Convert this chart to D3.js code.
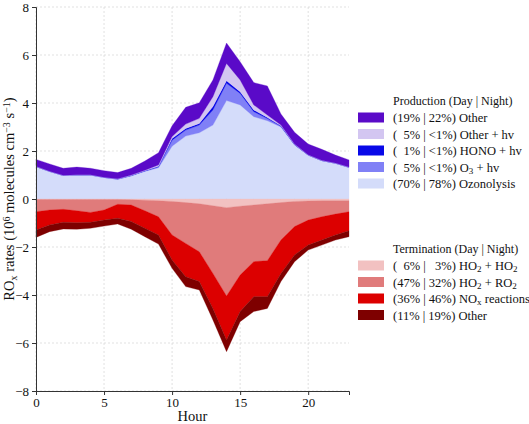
<!DOCTYPE html>
<html>
<head>
<meta charset="utf-8">
<script src="https://cdn.jsdelivr.net/npm/d3@7"></script>
<style>
  body { margin: 0; background: #fff; }
  text { font-family: "Liberation Serif", "DejaVu Serif", serif; fill: #111; }
</style>
</head>
<body>
<svg id="chart" width="529" height="424"></svg>
<script>
"use strict";

// hours of the day
var hours = [0,1,2,3,4,5,6,7,8,9,10,11,12,13,14,15,16,17,18,19,20,21,22,23];

// production terms (10^6 molecules cm-3 s-1), stacked bottom -> top
var ozonolysis = [1.35,1.15,0.98,1.00,1.00,0.90,0.83,0.97,1.15,1.30,2.20,2.62,2.76,3.08,4.10,3.92,3.43,3.26,3.00,2.25,1.83,1.60,1.49,1.32];
var o3Hv       = [0,0,0,0,0,0,0,0,0.02,0.04,0.25,0.25,0.32,0.63,0.72,0.48,0.21,0.09,0.03,0.01,0,0,0,0];
var honoHv     = [0,0,0,0,0,0,0,0.01,0.01,0.02,0.07,0.07,0.07,0.14,0.11,0.07,0.07,0.05,0.02,0.01,0,0,0,0];
var otherHv    = [0.01,0.01,0.01,0.01,0.01,0.01,0.01,0.02,0.02,0.06,0.08,0.18,0.21,0.41,0.72,0.49,0.21,0.10,0.03,0.02,0.01,0.01,0.01,0.01];
var prodOther  = [0.29,0.30,0.29,0.32,0.27,0.27,0.26,0.28,0.38,0.51,0.45,0.70,0.65,0.70,0.85,0.76,0.93,1.21,0.46,0.49,0.45,0.46,0.33,0.30];

// termination terms, stacked from zero downwards
var ho2ho2     = [-0.02,-0.02,-0.02,-0.02,-0.02,-0.02,-0.02,-0.03,-0.05,-0.07,-0.10,-0.15,-0.20,-0.28,-0.36,-0.30,-0.25,-0.20,-0.15,-0.10,-0.08,-0.07,-0.07,-0.07];
var ho2ro2     = [-0.51,-0.44,-0.41,-0.47,-0.54,-0.44,-0.20,-0.22,-0.44,-0.67,-1.40,-1.70,-2.00,-2.82,-3.68,-2.87,-2.36,-2.37,-1.56,-1.05,-0.80,-0.67,-0.56,-0.46];
var noxReact   = [-0.76,-0.62,-0.54,-0.50,-0.41,-0.42,-0.58,-0.69,-0.73,-0.76,-1.04,-1.39,-1.24,-1.46,-1.84,-1.52,-1.46,-1.50,-1.39,-1.18,-1.04,-0.97,-0.87,-0.79];
var termOther  = [-0.31,-0.28,-0.28,-0.27,-0.25,-0.25,-0.24,-0.32,-0.35,-0.38,-0.35,-0.41,-0.35,-0.48,-0.48,-0.42,-0.62,-0.49,-0.34,-0.28,-0.21,-0.21,-0.21,-0.25];

var prodKeys   = ['ozonolysis','o3Hv','honoHv','otherHv','prodOther'];
var termKeys   = ['ho2ho2','ho2ro2','noxReact','termOther'];

var xTicks = [0,5,10,15,20];
var yTicks = [-8,-6,-4,-2,0,2,4,6,8];

var colors = {
  prodOther: '#5a0ac8',
  otherHv: '#d3c6f1',
  honoHv: '#0808e8',
  o3Hv: '#8080f6',
  ozonolysis: '#d4dcfa',
  ho2ho2: '#f2c1c1',
  ho2ro2: '#e07b7b',
  noxReact: '#dc0000',
  termOther: '#7e0000'
};

// legend rows: [key, label pieces]  (pieces: [text, 'sub'|'sup'|null])
var prodLegend = [
  ['prodOther',  [['(19% | 22%) Other']]],
  ['otherHv',    [['( \u00a05% | <1%) Other + hv']]],
  ['honoHv',     [['( \u00a01% | <1%) HONO + hv']]],
  ['o3Hv',       [['( \u00a05% | <1%) O'],['3','sub'],[' + hv']]],
  ['ozonolysis', [['(70% | 78%) Ozonolysis']]]
];
var termLegend = [
  ['ho2ho2',    [['( \u00a06% | \u00a0\u00a03%) HO'],['2','sub'],[' + HO'],['2','sub']]],
  ['ho2ro2',    [['(47% | 32%) HO'],['2','sub'],[' + RO'],['2','sub']]],
  ['noxReact',  [['(36% | 46%) NO'],['x','sub'],[' reactions']]],
  ['termOther', [['(11% | 19%) Other']]]
];

var table = hours.map(function(h, i){
  return {
    hour: h,
    ozonolysis: ozonolysis[i], o3Hv: o3Hv[i], honoHv: honoHv[i],
    otherHv: otherHv[i], prodOther: prodOther[i],
    ho2ho2: ho2ho2[i], ho2ro2: ho2ro2[i], noxReact: noxReact[i], termOther: termOther[i]
  };
});

var svg = d3.select('#chart');
var padLeft = 36, padRight = 349, padTop = 7, padBottom = 391;

var x = d3.scaleLinear().domain([0,23]).range([padLeft,padRight]);
var y = d3.scaleLinear().domain([-8,8]).range([padBottom,padTop]);

// grid
var grid = svg.append('g').attr('stroke','#d9d9d9').attr('stroke-width',0.8).attr('stroke-dasharray','2,2');
grid.selectAll('.gx').data(xTicks).enter().append('line')
  .attr('x1',function(d){return x(d)}).attr('x2',function(d){return x(d)})
  .attr('y1',padTop).attr('y2',padBottom);
grid.selectAll('.gy').data(yTicks).enter().append('line')
  .attr('x1',padLeft).attr('x2',padRight)
  .attr('y1',function(d){return y(d)}).attr('y2',function(d){return y(d)});

var area = d3.area()
  .x(function(d){return x(d.data.hour)})
  .y0(function(d){return y(d[0])})
  .y1(function(d){return y(d[1])});

var prodStack = d3.stack().keys(prodKeys)(table);
var termStack = d3.stack().keys(termKeys).offset(d3.stackOffsetDiverging)(table);

svg.append('g').selectAll('path')
  .data(prodStack)
  .enter().append('path')
    .attr('d',area)
    .attr('fill',function(d){return colors[d.key]})
    .attr('stroke',function(d){return colors[d.key]})
    .attr('stroke-width',0.3);

svg.append('g').selectAll('path')
  .data(termStack)
  .enter().append('path')
    .attr('d',area)
    .attr('fill',function(d){return colors[d.key]})
    .attr('stroke',function(d){return colors[d.key]})
    .attr('stroke-width',0.3);

// axes
var xAxis = d3.axisBottom(x).tickValues(xTicks).tickSize(4).tickPadding(3);
var yAxis = d3.axisLeft(y).tickValues(yTicks).tickSize(4).tickPadding(3);

svg.append('g')
  .attr('transform','translate(0,'+padBottom+')')
  .call(xAxis)
  .attr('class','x-axis');
svg.append('g')
  .attr('transform','translate('+padLeft+',0)')
  .call(yAxis)
  .attr('class','y-axis');

svg.selectAll('.x-axis text, .y-axis text')
  .style('font-family','"Liberation Serif", serif')
  .style('font-size','13px')
  .attr('fill','#111');
svg.selectAll('.x-axis path, .y-axis path, .x-axis line, .y-axis line')
  .attr('stroke','#333');

svg.append('text')
  .attr('x',(padLeft+padRight)/2).attr('y',421)
  .attr('text-anchor','middle')
  .style('font-size','14.5px')
  .text('Hour');

function addPiece(t, p, small){
  var s = t.append('tspan').text(p[0]);
  if (p[1] === 'sub') s.attr('baseline-shift','-25%').style('font-size',small);
  if (p[1] === 'sup') s.attr('baseline-shift','40%').style('font-size',small);
}

// y label with sub/superscripts
var yl = svg.append('text')
  .attr('transform','translate(14,'+((padTop+padBottom)/2)+') rotate(-90)')
  .attr('text-anchor','middle')
  .style('font-size','14.5px');
[['RO'],['x','sub'],[' rates (10'],['6','sup'],[' molecules cm'],['\u22123','sup'],[' s'],['\u22121','sup'],[')']]
  .forEach(function(p){ addPiece(yl,p,'10px'); });

// legend
function drawLegend(title, rows, ty){
  var g = svg.append('g');
  g.append('text').attr('x',393).attr('y',ty+4).style('font-size','12px').text(title);
  rows.forEach(function(r, i){
    var cy = ty + 16.5*(i+1);
    g.append('rect')
      .attr('x',358).attr('y',cy-5).attr('width',26).attr('height',10)
      .attr('fill',colors[r[0]]);
    var t = g.append('text').attr('x',393).attr('y',cy+4.5).style('font-size','12.5px');
    r[1].forEach(function(p){ addPiece(t,p,'9px'); });
  });
}
drawLegend('Production (Day | Night)', prodLegend, 101);
drawLegend('Termination (Day | Night)', termLegend, 249);
</script>
</body>
</html>
